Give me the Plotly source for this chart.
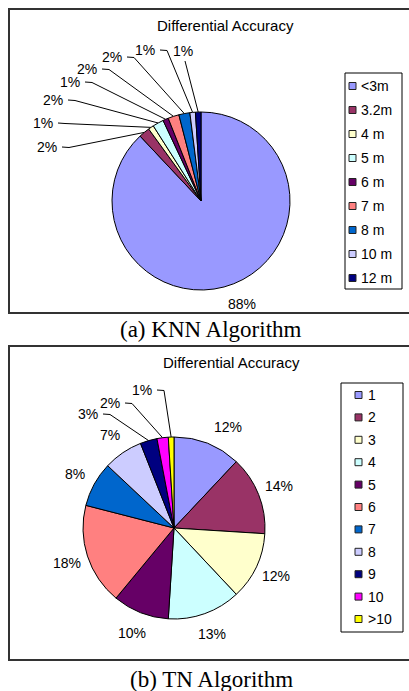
import math
import plotly.graph_objects as go

# ---------------- data ----------------
knn_labels = ["<3m", "3.2m", "4 m", "5 m", "6 m", "7 m", "8 m", "10 m", "12 m"]
knn_values = [88, 2, 1, 2, 1, 2, 2, 1, 1]

tn_labels = ["1", "2", "3", "4", "5", "6", "7", "8", "9", "10", ">10"]
tn_values = [12, 14, 12, 13, 10, 18, 8, 7, 3, 2, 1]

chart_title = "Differential Accuracy"
captions = ["(a) KNN Algorithm", "(b) TN Algorithm"]

# ---------------- styles / layout ----------------
palette = ["#9999FF", "#993366", "#FFFFCC", "#CCFFFF", "#660066", "#FF8080",
           "#0066CC", "#CCCCFF", "#000080", "#FF00FF", "#FFFF00"]

W, H = 409, 691
SANS = "Liberation Sans, Arial, sans-serif"
SERIF = "Liberation Serif, Times New Roman, serif"

panels = [
    dict(labels=knn_labels, values=knn_values, cx=201, cy=201, r=89,
         frame=(9, 9, 420, 313), title_xy=(225, 25), caption_xy=(211, 329),
         legend_box=(345, 73, 402, 289), legend_y0=86, legend_step=24,
         legend_sq_x=352.5, legend_text_x=359,
         # label placement for small slices with leader lines (index -> label centre)
         leader_pos={1: (47, 147), 2: (43, 123), 3: (53, 100), 4: (70, 82),
                     5: (87, 69), 6: (112, 57), 7: (145, 50), 8: (183, 51)},
         bottom_leader={8}, label_shift={}),
    dict(labels=tn_labels, values=tn_values, cx=174, cy=528, r=91,
         frame=(9, 346, 420, 660), title_xy=(231, 362), caption_xy=(211, 679),
         legend_box=(341, 383, 403, 632), legend_y0=395, legend_step=22.4,
         legend_sq_x=358.5, legend_text_x=366,
         leader_pos={8: (88, 414), 9: (110, 403), 10: (142, 390)},
         bottom_leader=set(), label_shift={0: (12, 4)}),
]

fig = go.Figure()
annotations = []
shapes = []


def pt(cx, cy, R, frac):
    a = 2 * math.pi * frac
    return cx + R * math.sin(a), cy - R * math.cos(a)


for p in panels:
    cx, cy, r = p["cx"], p["cy"], p["r"]
    vals = p["values"]
    n = len(vals)
    cols = palette[:n]
    fig.add_trace(go.Pie(
        labels=p["labels"], values=vals, sort=False, direction="clockwise",
        rotation=0, marker=dict(colors=cols, line=dict(color="#000000", width=1)),
        textinfo="none", hoverinfo="label+percent", showlegend=False,
        domain=dict(x=[(cx - r) / W, (cx + r) / W],
                    y=[1 - (cy + r) / H, 1 - (cy - r) / H]),
    ))

    total = sum(vals)
    cum = 0
    for i, v in enumerate(vals):
        mid = (cum + v / 2) / total
        cum += v
        txt = f"{round(100 * v / total)}%"
        if i in p["leader_pos"]:
            lx, ly = p["leader_pos"][i]
            ex, ey = pt(cx, cy, r, mid)
            if i in p["bottom_leader"]:
                xs = [lx + 2, ex]
                ys = [ly + 10, ey]
            else:
                sx = lx + 15
                xs = [sx, sx + 7, ex]
                ys = [ly, ly + 0.5, ey]
            fig.add_trace(go.Scatter(x=xs, y=ys, mode="lines",
                                     line=dict(color="#000000", width=1),
                                     hoverinfo="skip", showlegend=False))
        else:
            lx, ly = pt(cx, cy, r + 22, mid)
            dx, dy = p["label_shift"].get(i, (0, 0))
            lx, ly = lx + dx, ly + dy
        annotations.append(dict(x=lx, y=ly, xref="x", yref="y", text=txt,
                                showarrow=False, xanchor="center", yanchor="middle",
                                font=dict(family=SANS, size=14, color="#000000")))

    # legend (manual)
    x0, y0, x1, y1 = p["legend_box"]
    shapes.append(dict(type="rect", xref="x", yref="y", x0=x0, y0=y0, x1=x1, y1=y1,
                       line=dict(color="#000000", width=1), fillcolor="rgba(0,0,0,0)"))
    ys = [p["legend_y0"] + k * p["legend_step"] for k in range(n)]
    fig.add_trace(go.Scatter(x=[p["legend_sq_x"]] * n, y=ys, mode="markers",
                             marker=dict(symbol="square", size=7, color=cols,
                                         line=dict(color="#222222", width=1)),
                             hoverinfo="skip", showlegend=False))
    for k, lab in enumerate(p["labels"]):
        annotations.append(dict(x=p["legend_text_x"], y=ys[k], xref="x", yref="y",
                                text=lab.replace("<", "&lt;").replace(">", "&gt;"),
                                showarrow=False, xanchor="left", yanchor="middle",
                                font=dict(family=SANS, size=14, color="#000000")))

    # frame (open on the right: cut off by the picture edge)
    fx0, fy0, fx1, fy1 = p["frame"]
    shapes.append(dict(type="path", xref="x", yref="y",
                       path=f"M {fx1} {fy0} L {fx0} {fy0} L {fx0} {fy1} L {fx1} {fy1}",
                       line=dict(color="#333333", width=2), layer="below"))
    # title
    tx, ty = p["title_xy"]
    annotations.append(dict(x=tx, y=ty, xref="x", yref="y", text=chart_title,
                            showarrow=False, xanchor="center", yanchor="middle",
                            font=dict(family=SANS, size=15, color="#000000")))

for p, cap in zip(panels, captions):
    cx_, cy_ = p["caption_xy"]
    annotations.append(dict(x=cx_, y=cy_, xref="x", yref="y", text=cap,
                            showarrow=False, xanchor="center", yanchor="middle",
                            font=dict(family=SERIF, size=23, color="#000000")))

fig.update_layout(
    width=W, height=H, autosize=False,
    margin=dict(l=0, r=0, t=0, b=0),
    paper_bgcolor="#FFFFFF", plot_bgcolor="rgba(0,0,0,0)",
    xaxis=dict(range=[0, W], domain=[0, 1], visible=False, fixedrange=True),
    yaxis=dict(range=[H, 0], domain=[0, 1], visible=False, fixedrange=True),
    annotations=annotations, shapes=shapes, showlegend=False,
)

fig.write_html(
    "out.html",
    config={"displayModeBar": False},
    post_script="document.body.style.margin='0';document.body.style.overflow='hidden';",
)
